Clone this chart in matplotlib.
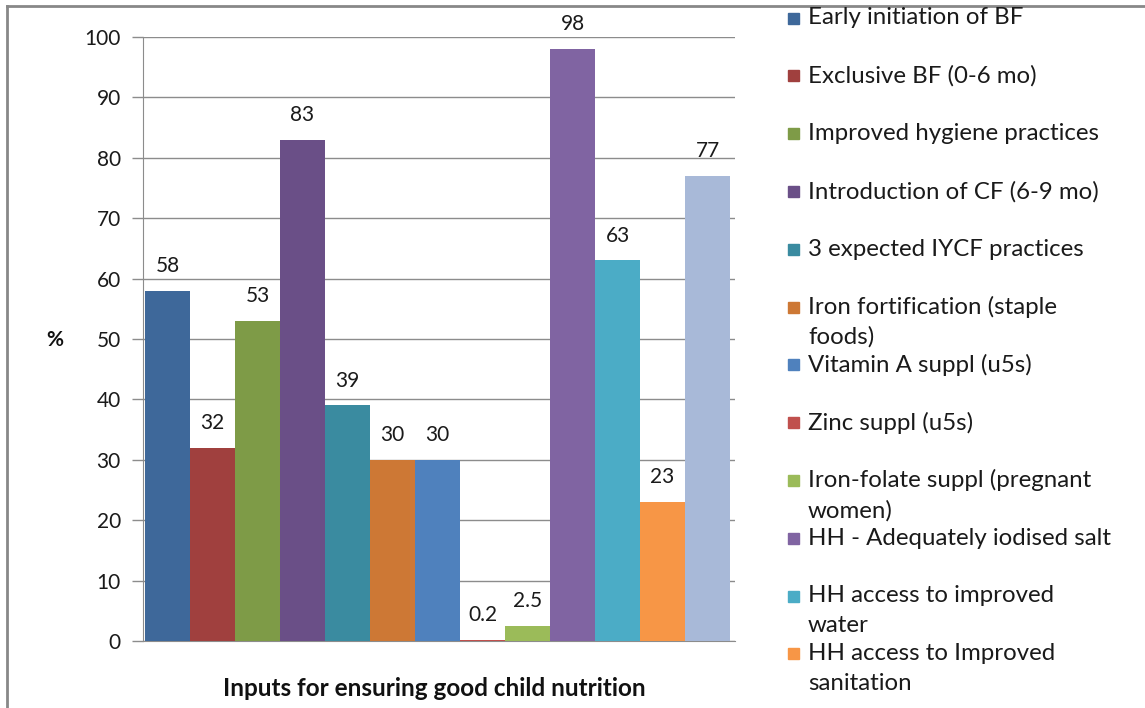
import matplotlib
matplotlib.use("Agg")
import matplotlib.pyplot as plt
from matplotlib.lines import Line2D
from matplotlib.patches import Rectangle

categories = [
    "Early initiation of BF",
    "Exclusive BF (0-6 mo)",
    "Improved hygiene practices",
    "Introduction of CF (6-9 mo)",
    "3 expected IYCF practices",
    "Iron fortification (staple\nfoods)",
    "Vitamin A suppl (u5s)",
    "Zinc suppl (u5s)",
    "Iron-folate suppl (pregnant\nwomen)",
    "HH - Adequately iodised salt",
    "HH access to improved\nwater",
    "HH access to Improved\nsanitation",
    "",
]
values = [58, 32, 53, 83, 39, 30, 30, 0.2, 2.5, 98, 63, 23, 77]
value_labels = ["58", "32", "53", "83", "39", "30", "30", "0.2", "2.5", "98", "63", "23", "77"]
colors = ["#3E689A", "#A0403E", "#7E9B47", "#6A4F87", "#3A8BA0", "#CD7835",
          "#4F81BD", "#C0504D", "#9BBB59", "#8064A2", "#4BACC6", "#F79646", "#A8B9D8"]
yticks = [0, 10, 20, 30, 40, 50, 60, 70, 80, 90, 100]

W, H = 1145, 708
fig = plt.figure(figsize=(W / 100, H / 100), dpi=100)
plt.rcParams['font.family'] = ['Lato', 'DejaVu Sans']

def fx(px):
    return px / W

def fy(py):
    return 1 - py / H

ax_l, ax_r, ax_t, ax_b = 143, 735, 37, 641
ax = fig.add_axes([fx(ax_l), fy(ax_b), fx(ax_r - ax_l), (ax_b - ax_t) / H])

x = list(range(len(values)))
ax.bar(x, values, width=1.0, color=colors, zorder=3)
for xi, v, lab in zip(x, values, value_labels):
    ax.annotate(lab, (xi, v), xytext=(0, 10.5), textcoords="offset points",
                ha="center", va="bottom", fontsize=15, color="#1a1a1a")

ax.set_ylim(0, 100)
ax.set_xlim(-0.545, 12.61)
ax.set_yticks(yticks)
ax.set_yticklabels([str(t) for t in yticks], fontsize=15, color="#1a1a1a")
ax.set_xticks([])
ax.yaxis.grid(True, color="#8C8C8C", linewidth=1.0, zorder=0)
ax.tick_params(axis="y", length=8, width=1, color="#8C8C8C", pad=8)
for s in ["top", "right"]:
    ax.spines[s].set_visible(False)
ax.spines["left"].set_color("#8C8C8C")
ax.spines["bottom"].set_color("#8C8C8C")
ax.spines["left"].set_zorder(4)

fig.text(fx(434), fy(688), "Inputs for ensuring good child nutrition", ha="center", va="center",
         fontsize=17.5, fontweight="bold", color="#111111")
fig.text(fx(55), fy(340), "%", ha="center", va="center", fontsize=15, fontweight="bold", color="#111111")

# legend (drawn manually, Excel style)
for i, lab in enumerate(categories[:12]):
    yc = 18 + i * 57.8
    fig.add_artist(Rectangle((fx(788), fy(yc + 5.5)), fx(11), 11 / H, color=colors[i],
                             transform=fig.transFigure))
    for j, line in enumerate(lab.split("\n")):
        fig.text(fx(808), fy(yc + j * 30), line, ha="left", va="center", fontsize=17.3, color="#1a1a1a")

# outer frame of the chart area
fig.add_artist(Line2D([fx(7), fx(7)], [fy(6), 0], color="#888888", linewidth=2, transform=fig.transFigure))
fig.add_artist(Line2D([fx(7), 1], [fy(6), fy(6)], color="#888888", linewidth=2, transform=fig.transFigure))

fig.savefig("out.png", dpi=100)
